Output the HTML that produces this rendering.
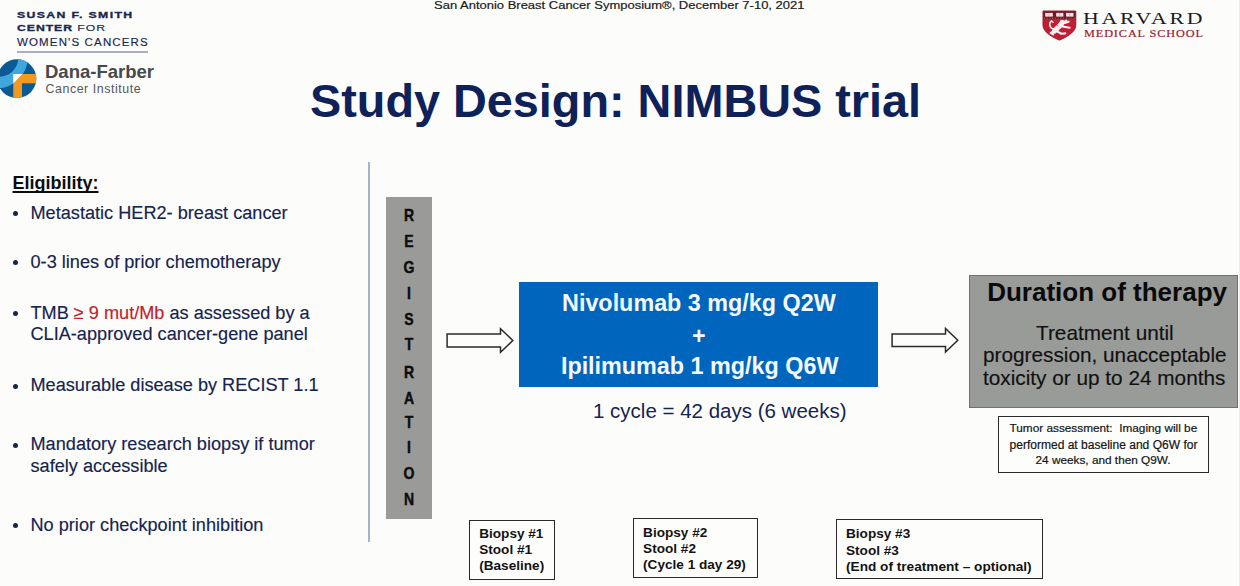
<!DOCTYPE html>
<html lang="en">
<head>
<meta charset="utf-8">
<title>Study Design: NIMBUS trial</title>
<style>
  html, body { margin: 0; padding: 0; }
  body {
    width: 1240px; height: 586px; overflow: hidden; position: relative;
    background: #fcfdfb;
    font-family: "Liberation Sans", sans-serif;
    color: #111;
  }
  .abs { position: absolute; white-space: nowrap; line-height: 1; }
  .slide { position: absolute; left: 0; top: 0; width: 1240px; height: 586px; overflow: hidden; }

  /* header */
  .conf { left: 434.3px; top: -0.2px; font-size: 11.4px; color: #1a1a1a; -webkit-text-stroke: 0.2px #1a1a1a; transform-origin: left top; transform: scaleX(1.14); }
  .title { left: 310px; top: 78px; font-size: 46.8px; font-weight: bold; color: #0e2158; }

  /* left logos */
  .ssc { left: 17.3px; color: #1a2850; font-size: 9.8px; letter-spacing: 1.1px; transform-origin: left top; transform: scaleX(1.25); }
  .ssc b { font-weight: bold; -webkit-text-stroke: 0.35px #1a2850; }
  .ssc i { font-style: normal; -webkit-text-stroke: 0.15px #1a2850; }
  .ssc-rule { position: absolute; left: 17px; top: 50.5px; width: 131px; height: 2px; background: #a9aec6; }
  .df1 { left: 45px; top: 63.1px; font-size: 18.5px; font-weight: bold; color: #48494b; }
  .df2 { left: 45.5px; top: 83px; font-size: 12.4px; color: #55565a; letter-spacing: 0.55px; }

  /* harvard */
  .hv1 { left: 1082.8px; top: 10.2px; font-family: "Liberation Serif", serif; font-size: 17.4px; letter-spacing: 2.2px; color: #1b1b1b; transform-origin: left top; transform: scaleX(1.25); }
  .hv2 { left: 1083.6px; top: 29.3px; font-family: "Liberation Serif", serif; font-size: 10.2px; letter-spacing: 0.75px; color: #9c1c34; -webkit-text-stroke: 0.2px #9c1c34; transform-origin: left top; transform: scaleX(1.2); }

  /* eligibility */
  .elig-h { left: 12.5px; top: 173.7px; font-size: 18px; font-weight: bold; color: #0c0c0c; text-decoration: underline; text-decoration-thickness: 1.8px; text-underline-offset: 2.2px; text-decoration-skip-ink: none; }
  .li { left: 30.5px; font-size: 18.15px; color: #15234f; -webkit-text-stroke: 0.15px #15234f; }
  .li .red { color: #c4202a; -webkit-text-stroke: 0.15px #c4202a; }
  .dot { position: absolute; left: 12.5px; width: 5px; height: 5px; border-radius: 50%; background: #15234f; }

  /* divider */
  .vline { position: absolute; left: 368.1px; top: 161.6px; width: 2px; height: 380.7px; background: #aab1c5; }

  /* registration */
  .reg { position: absolute; left: 385.7px; top: 196.5px; width: 46px; height: 322.3px; background: #9a9b98; }
  .reg span { position: absolute; left: 0; width: 46px; text-align: center; transform: scaleX(0.86); font-size: 16.3px; font-weight: bold; color: #0d0d0d; -webkit-text-stroke: 0.45px #0d0d0d; line-height: 1; }

  /* blue box */
  .blue { position: absolute; left: 519.4px; top: 282.2px; width: 358.8px; height: 104.4px; background: #0065bc; }
  .blue div { position: absolute; left: 0; width: 359px; text-align: center; color: #f4f8fc; font-weight: bold; font-size: 23.35px; line-height: 1; white-space: nowrap; }
  .cycle { left: 593px; top: 401px; font-size: 20.5px; color: #15234f; }

  /* duration */
  .dur { position: absolute; left: 969.2px; top: 274.5px; width: 269.2px; height: 133px; background: #999b98; border: 1.8px solid #587795; box-sizing: border-box; }
  .dur-h { left: 987.2px; top: 279.3px; font-size: 26px; font-weight: bold; color: #0a0a0a; }
  .dur-t { font-size: 20.78px; color: #101010; -webkit-text-stroke: 0.15px #101010; }

  .note { position: absolute; box-sizing: border-box; border: 1.8px solid #2a2a2a; background: #fdfefc; }
  .tumor { left: 998.4px; top: 415.6px; width: 210.8px; height: 57.2px; border-width: 1.8px; }
  .tumor-t { font-size: 11.8px; color: #141414; -webkit-text-stroke: 0.2px #141414; }
  .bx { font-size: 13.6px; font-weight: bold; color: #131313; }
</style>
</head>
<body>
<div class="slide">
  <div style="position:absolute; left:1238.8px; top:0; width:1.2px; height:586px; background:#ececeb"></div>

  <!-- top centre conference line -->
  <div class="abs conf">San Antonio Breast Cancer Symposium®, December 7-10, 2021</div>

  <!-- Susan F. Smith Center / Dana-Farber logo -->
  <div class="abs ssc" style="top:9.7px"><b>SUSAN F. SMITH</b></div>
  <div class="abs ssc" style="top:23px; letter-spacing:0.75px"><b>CENTER</b> <i>FOR</i></div>
  <div class="abs ssc" style="top:37.5px; font-size:10px; letter-spacing:1px; transform:scaleX(1.15)"><i>WOMEN'S CANCERS</i></div>
  <div class="ssc-rule"></div>
  <svg class="abs" style="left:-3px; top:58px" width="44" height="44" viewBox="0 0 44 44">
    <defs><clipPath id="dfc"><circle cx="19.9" cy="20.7" r="19.4"/></clipPath></defs>
    <g clip-path="url(#dfc)">
      <rect x="0" y="0" width="44" height="44" fill="#0b5a94"/>
      <path fill="#3fa7dc" fill-rule="evenodd" d="M-30.8 -0.5 a30.8 30.8 0 1 0 61.6 0 a30.8 30.8 0 1 0 -61.6 0 Z M-17.3 -0.5 a19.3 19.3 0 1 0 38.6 0 a19.3 19.3 0 1 0 -38.6 0 Z"/>
      <rect x="16.3" y="16" width="28" height="9.3" fill="#f29a1f"/>
      <rect x="16.3" y="16" width="8.7" height="28" fill="#f29a1f"/>
      <path d="M16.3 16 L25.3 16 L16.3 25.6 Z" fill="#ffffff"/>
    </g>
  </svg>
  <div class="abs df1">Dana-Farber</div>
  <div class="abs df2">Cancer Institute</div>

  <!-- Harvard Medical School -->
  <svg class="abs" style="left:1041.6px; top:9.6px" width="35" height="31.1" viewBox="-1 -1 36 32">
    <path d="M0 0 H33.8 V14.5 C33.8 20 28 25.5 16.9 30 C5.8 25.5 0 20 0 14.5 Z" fill="#c21d33" stroke="#8f1626" stroke-width="0.9"/>
    <path d="M0.6 0.6 H33.2 V8.2 H0.6 Z" fill="#7a1523"/>
    <rect x="2.3" y="2" width="7.8" height="3.8" fill="#f4e9ea"/>
    <rect x="13.6" y="2" width="7.4" height="3.8" fill="#f4e9ea"/>
    <rect x="23.8" y="2" width="7.6" height="3.8" fill="#f4e9ea"/>
    <path d="M6.2 2 V5.8 M17.3 2 V5.8 M27.6 2 V5.8" stroke="#b98b92" stroke-width="0.7"/>
    <path d="M1 7.4 H33" stroke="#c9a3a8" stroke-width="0.6" stroke-dasharray="1.2 1.6"/>
    <g fill="none" stroke="#f7eef0" stroke-linecap="round" stroke-linejoin="round">
      <path d="M12 20.5 L19 13.5" stroke-width="5.4"/>
      <circle cx="19.6" cy="11.6" r="2.5" fill="#f7eef0" stroke="none"/>
      <path d="M19 13.5 L26.5 11 M20 16 L27.5 17.2 M21.5 11.5 L24 9.8" stroke-width="2.1"/>
      <path d="M12 20 L8 22.6 L10.5 24 M14.5 21 L19 23.4 L23 23" stroke-width="2.2"/>
      <path d="M10.5 18.5 C6.5 17.5 5.8 12.5 8.8 10.2 L10.4 11.6" stroke-width="1.6"/>
      <path d="M15.5 15.5 L13 13.5 M17 19.5 L19.5 20.5" stroke="#c21d33" stroke-width="0.7"/>
    </g>
  </svg>
  <div class="abs hv1">HARVARD</div>
  <div class="abs hv2">MEDICAL SCHOOL</div>

  <!-- Title -->
  <div class="abs title">Study Design: NIMBUS trial</div>

  <!-- Eligibility list -->
  <div class="abs elig-h">Eligibility:</div>

  <div class="dot" style="top:211px"></div>
  <div class="abs li" style="top:203.5px">Metastatic HER2- breast cancer</div>

  <div class="dot" style="top:260px"></div>
  <div class="abs li" style="top:252.5px">0-3 lines of prior chemotherapy</div>

  <div class="dot" style="top:311px"></div>
  <div class="abs li" style="top:303.5px">TMB <span class="red">≥ 9 mut/Mb</span> as assessed by a</div>
  <div class="abs li" style="top:325.4px">CLIA-approved cancer-gene panel</div>

  <div class="dot" style="top:383.5px"></div>
  <div class="abs li" style="top:376px">Measurable disease by RECIST 1.1</div>

  <div class="dot" style="top:442.5px"></div>
  <div class="abs li" style="top:435px">Mandatory research biopsy if tumor</div>
  <div class="abs li" style="top:456.8px">safely accessible</div>

  <div class="dot" style="top:523px"></div>
  <div class="abs li" style="top:515.5px">No prior checkpoint inhibition</div>

  <!-- vertical divider -->
  <div class="vline"></div>

  <!-- Registration bar -->
  <div class="reg">
    <span style="top:10.9px">R</span>
    <span style="top:36.9px">E</span>
    <span style="top:62.9px">G</span>
    <span style="top:88.9px">I</span>
    <span style="top:114.4px">S</span>
    <span style="top:139.9px">T</span>
    <span style="top:167.2px">R</span>
    <span style="top:193.4px">A</span>
    <span style="top:217.2px">T</span>
    <span style="top:242.9px">I</span>
    <span style="top:268.4px">O</span>
    <span style="top:294.4px">N</span>
  </div>

  <!-- arrow 1 -->
  <svg class="abs" style="left:444px; top:324px" width="74" height="34" viewBox="0 0 74 34">
    <path d="M3.1 9.9 H56.5 V4.7 L68.8 16.5 L56.5 28.3 V23.1 H3.1 Z" fill="#fdfdfc" stroke="#2a2a2a" stroke-width="1.5" stroke-linejoin="miter"/>
  </svg>

  <!-- Treatment box -->
  <div class="blue">
    <div style="top:9.8px">Nivolumab 3 mg/kg Q2W</div>
    <div style="top:43px">+</div>
    <div style="top:72.5px; left:0.8px">Ipilimumab 1 mg/kg Q6W</div>
  </div>
  <div class="abs cycle">1 cycle = 42 days (6 weeks)</div>

  <!-- arrow 2 -->
  <svg class="abs" style="left:889px; top:324px" width="74" height="34" viewBox="0 0 74 34">
    <path d="M3.1 9.9 H56.5 V4.5 L68.8 16.3 L56.5 28.1 V22.4 H3.1 Z" fill="#fdfdfc" stroke="#2a2a2a" stroke-width="1.5" stroke-linejoin="miter"/>
  </svg>

  <!-- Duration of therapy -->
  <div class="dur"></div>
  <div class="abs dur-h">Duration of therapy</div>
  <div class="abs dur-t" style="left:1036px; top:322.9px">Treatment until</div>
  <div class="abs dur-t" style="left:983px; top:345.2px">progression, unacceptable</div>
  <div class="abs dur-t" style="left:983px; top:367.5px">toxicity or up to 24 months</div>

  <!-- Tumor assessment -->
  <div class="note tumor"></div>
  <div class="abs tumor-t" style="left:1009.5px; top:423.2px">Tumor assessment:&nbsp; Imaging will be</div>
  <div class="abs tumor-t" style="left:1009.5px; top:438.8px; font-size:12.04px">performed at baseline and Q6W for</div>
  <div class="abs tumor-t" style="left:1035.5px; top:454.8px">24 weeks, and then Q9W.</div>

  <!-- Biopsy boxes -->
  <div class="note" style="left:469.2px; top:520px; width:85.8px; height:59.5px"></div>
  <div class="abs bx" style="left:479.2px; top:526.7px">Biopsy #1</div>
  <div class="abs bx" style="left:479.2px; top:543.4px">Stool #1</div>
  <div class="abs bx" style="left:479.2px; top:559.2px">(Baseline)</div>

  <div class="note" style="left:633.2px; top:518.2px; width:125px; height:59.5px"></div>
  <div class="abs bx" style="left:643.1px; top:525.5px">Biopsy #2</div>
  <div class="abs bx" style="left:643.1px; top:542px">Stool #2</div>
  <div class="abs bx" style="left:643.1px; top:558px">(Cycle 1 day 29)</div>

  <div class="note" style="left:836.1px; top:519.3px; width:207.2px; height:60.2px"></div>
  <div class="abs bx" style="left:846px; top:527.2px">Biopsy #3</div>
  <div class="abs bx" style="left:846px; top:543.8px">Stool #3</div>
  <div class="abs bx" style="left:846px; top:560px; font-size:13.65px">(End of treatment – optional)</div>

</div>
</body>
</html>
